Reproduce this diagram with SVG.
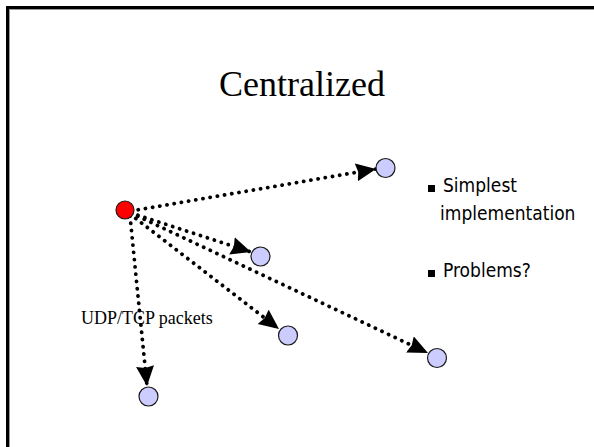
<svg xmlns="http://www.w3.org/2000/svg" width="594" height="447" viewBox="0 0 594 447">
<style>
.node{fill:#ccccff;stroke:#1a1a1a;stroke-width:1.2}
.src{fill:#ff0000;stroke:#1a1a1a;stroke-width:1.2}
.conn{fill:none;stroke:#000;stroke-width:3.8;stroke-linecap:round;stroke-dasharray:0.1 7.2}
.title{font-family:"Liberation Serif",serif;font-size:36px;fill:#000}
.lbl{font-family:"Liberation Serif",serif;font-size:18px;fill:#000}
.bul{font-family:"DejaVu Sans Condensed","DejaVu Sans",sans-serif;font-size:19px;fill:#000}
</style>
<defs>
<marker id="ah" markerUnits="userSpaceOnUse" markerWidth="22" markerHeight="20" refX="20" refY="9" orient="auto">
<path d="M0,0 L20,9 L0,18 L2,9 z" fill="#000"/>
</marker>
</defs>
<rect width="594" height="447" fill="#fff"/>
<rect x="7.5" y="7.5" width="700" height="600" fill="none" stroke="#000" stroke-width="3"/>
<rect x="9.5" y="9.5" width="700" height="600" fill="none" stroke="#999" stroke-width="1"/>
<text class="title" x="302" y="96" text-anchor="middle">Centralized</text>
<g id="connectors">
<line class="conn" x1="131" y1="211" x2="376" y2="169" marker-end="url(#ah)"/>
<line class="conn" x1="131" y1="213" x2="251" y2="252" marker-end="url(#ah)"/>
<line class="conn" x1="130" y1="214" x2="279" y2="329" marker-end="url(#ah)"/>
<line class="conn" x1="131" y1="213" x2="428" y2="353" marker-end="url(#ah)"/>
<line class="conn" x1="130" y1="216" x2="147" y2="386" marker-end="url(#ah)"/>
</g>
<g id="src"><circle class="src" cx="125" cy="210" r="9"/></g>
<g id="n1"><circle class="node" cx="385.5" cy="168" r="9.5"/></g>
<g id="n2"><circle class="node" cx="260.5" cy="256.5" r="9.5"/></g>
<g id="n3"><circle class="node" cx="288" cy="335.5" r="9.5"/></g>
<g id="n4"><circle class="node" cx="437" cy="358" r="9.5"/></g>
<g id="n5"><circle class="node" cx="148.5" cy="396.5" r="9.5"/></g>
<text class="lbl" x="81" y="324">UDP/TCP packets</text>
<g id="bullets">
<rect x="428" y="185" width="7" height="7" fill="#000"/>
<text class="bul" x="443" y="192">Simplest</text>
<text class="bul" x="440" y="220">implementation</text>
<rect x="428" y="270" width="7" height="7" fill="#000"/>
<text class="bul" x="443" y="277">Problems?</text>
</g>
</svg>
